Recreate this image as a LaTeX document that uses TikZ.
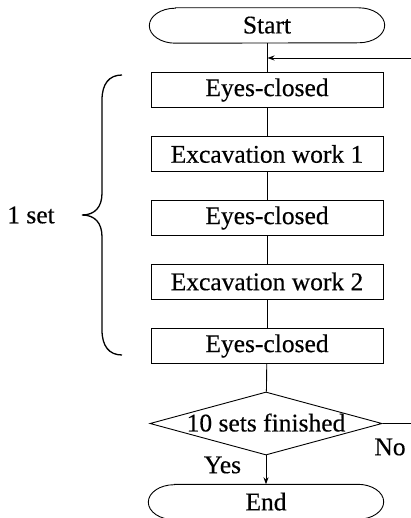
\documentclass[tikz,border=0pt]{standalone}
\usepackage{fontspec}
\setmainfont{Liberation Serif}[FakeBold=0.35]
\usetikzlibrary{shapes.geometric,arrows.meta}
\begin{document}
\begin{tikzpicture}[x=1pt,y=-1pt,
  every node/.style={font=\fontsize{25.5}{30}\selectfont, inner sep=0pt},
  stepbox/.style={draw, line width=0.9pt, minimum width=232pt, minimum height=35pt},
  termbox/.style={minimum width=235pt, minimum height=35pt},
  decide/.style={draw, line width=0.9pt, diamond, aspect=3.68, minimum width=232pt, minimum height=63pt, inner sep=0pt},
  link/.style={line width=0.9pt},
  flow/.style={line width=0.9pt, -{Stealth[length=7pt,width=5pt]}}]
\useasboundingbox (0,0) rectangle (411,518);

% terminal shapes: flat top and bottom with elliptical ends
\newcommand{\terminal}[1]{%
  \draw[line width=0.9pt] ([xshift=26pt]#1.north west) -- ([xshift=-26pt]#1.north east)
    arc[start angle=90,end angle=-90,x radius=26pt,y radius=17.5pt]
    -- ([xshift=26pt]#1.south west)
    arc[start angle=270,end angle=90,x radius=26pt,y radius=17.5pt] -- cycle;}

\node[termbox] (start) at (267,25.5) {\raisebox{1pt}{Start}};
\terminal{start}

\node[stepbox] (e1) at (267,90)  {Eyes-closed};
\node[stepbox] (w1) at (267,154) {Excavation work 1};
\node[stepbox] (e2) at (267,218) {Eyes-closed};
\node[stepbox] (w2) at (267,281.5) {Excavation work 2};
\node[stepbox] (e3) at (267,346) {Eyes-closed};

\node[decide] (chk) at (266,423.5) {\raisebox{2pt}{10 sets finished}};

\node[termbox] (end) at (266,502) {\raisebox{1pt}{End}};
\terminal{end}

% main flow
\coordinate (join) at (267.5,58);
\draw[link] (start) -- (e1);
\draw[link] (e1) -- (w1);
\draw[link] (w1) -- (e2);
\draw[link] (e2) -- (w2);
\draw[link] (w2) -- (e3);
\draw[link] (e3) -- (chk);
\draw[flow] (chk) -- (end);

% loop back for the next set
\coordinate (loopin) at (412,58);
\coordinate (loopout) at (412,423.5);
\draw[flow] (loopin) -- (join);
\draw[link] (chk.east) -- (loopout);

\node (yes) at (222.5,465) {Yes};
\node (no) at (390,447) {No};

% brace grouping one set
\draw[line width=1.3pt]
  (122,75) .. controls (109,75) and (102,84) .. (102,100)
  -- (102,193) .. controls (102,207) and (95,215) .. (82,215)
  .. controls (95,215) and (102,223) .. (102,237)
  -- (102,330) .. controls (102,346) and (109,355) .. (122,355);
\node (set) at (31,215) {1 set};
\end{tikzpicture}
\end{document}
